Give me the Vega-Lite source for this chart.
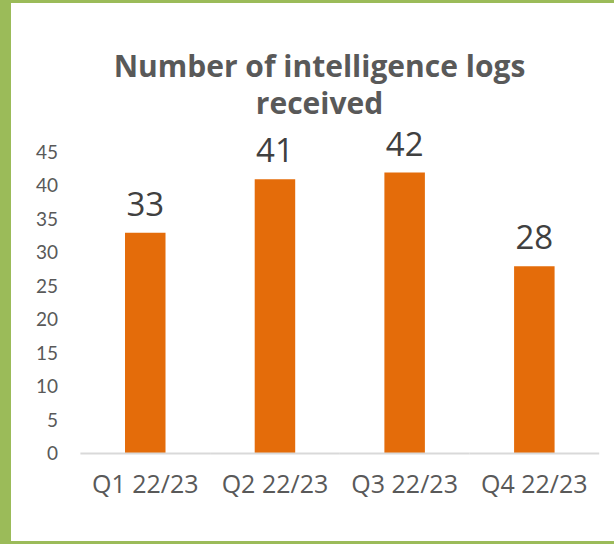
{
  "$schema": "https://vega.github.io/schema/vega-lite/v6.json",
  "width": 603,
  "height": 538,
  "autosize": {"type": "none"},
  "padding": {"left": 11, "top": 3, "right": 0, "bottom": 3},
  "background": "#9BBB59",
  "title": {
    "text": ["Number of intelligence logs", "received"],
    "font": "Open Sans",
    "fontSize": 30,
    "fontWeight": "bold",
    "color": "#595959",
    "anchor": "middle",
    "frame": "group",
    "orient": "top",
    "offset": -117,
    "dx": 7,
    "lineHeight": 37
  },
  "data": {
    "values": [
      {"quarter": "Q1 22/23", "logs": 33},
      {"quarter": "Q2 22/23", "logs": 41},
      {"quarter": "Q3 22/23", "logs": 42},
      {"quarter": "Q4 22/23", "logs": 28}
    ]
  },
  "encoding": {
    "x": {
      "field": "quarter",
      "type": "nominal",
      "sort": null,
      "title": null,
      "scale": {"paddingInner": 0.6877, "paddingOuter": 0.6686, "align": 0.6574},
      "axis": {
        "orient": "bottom",
        "offset": -87.5,
        "domain": false,
        "ticks": false,
        "tickSize": 0,
        "labelPadding": 19,
        "labelAngle": 0,
        "labelFont": "Open Sans",
        "labelFontSize": 25,
        "labelColor": "#595959"
      }
    },
    "y": {
      "type": "quantitative",
      "title": null,
      "scale": {"domain": [-13.081, 67.35], "nice": false, "zero": false},
      "axis": {
        "values": [0, 5, 10, 15, 20, 25, 30, 35, 40, 45],
        "offset": -46.5,
        "domain": false,
        "ticks": false,
        "tickSize": 0,
        "grid": false,
        "labelPadding": 0,
        "labelFont": "Lato",
        "labelFontSize": 19,
        "labelColor": "#595959"
      }
    }
  },
  "layer": [
    {
      "mark": {"type": "bar", "color": "#E46C0A"},
      "encoding": {
        "y": {"field": "logs"},
        "y2": {"datum": 0}
      }
    },
    {
      "mark": {"type": "tick", "orient": "horizontal", "color": "#D9D9D9", "size": 129.7, "thickness": 2, "opacity": 1},
      "encoding": {
        "y": {"datum": 0}
      }
    },
    {
      "mark": {"type": "text", "baseline": "alphabetic", "dy": -17, "font": "Open Sans", "fontSize": 33, "color": "#404040"},
      "encoding": {
        "y": {"field": "logs"},
        "text": {"field": "logs", "type": "quantitative"}
      }
    }
  ],
  "config": {
    "view": {"fill": "white", "stroke": null}
  }
}
